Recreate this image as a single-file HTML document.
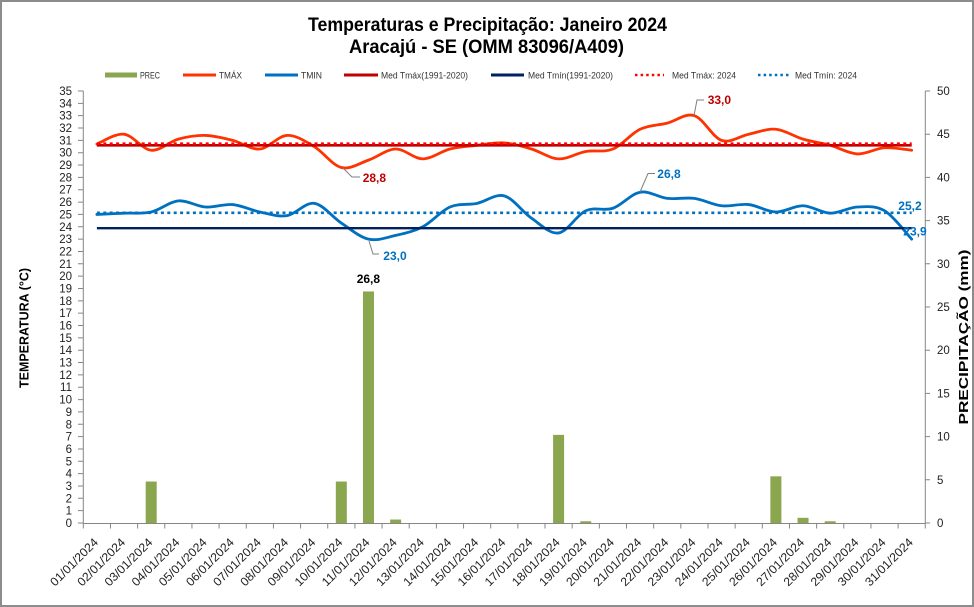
<!DOCTYPE html>
<html><head><meta charset="utf-8">
<style>
html,body{margin:0;padding:0;background:#fff;}
svg{display:block;}
text{font-family:"Liberation Sans",Arial,sans-serif;}
</style></head>
<body>
<svg id="c" width="974" height="607" viewBox="0 0 974 607" xmlns="http://www.w3.org/2000/svg">
<rect x="0" y="0" width="974" height="607" fill="#fff"/>
<rect x="1" y="1" width="972" height="605" fill="none" stroke="#8c8c8c" stroke-width="2"/>

<!-- Title -->
<text x="487.5" y="31" text-anchor="middle" font-size="19" font-weight="bold" fill="#000" textLength="359" lengthAdjust="spacingAndGlyphs">Temperaturas e Precipitação: Janeiro 2024</text>
<text x="486.5" y="53" text-anchor="middle" font-size="19" font-weight="bold" fill="#000" textLength="275" lengthAdjust="spacingAndGlyphs">Aracajú - SE (OMM 83096/A409)</text>

<!-- Legend -->
<g font-size="9" fill="#333">
<rect x="105" y="72.5" width="32" height="5" fill="#8aa64f"/>
<text x="140" y="78.5" textLength="20" lengthAdjust="spacingAndGlyphs">PREC</text>
<line x1="183" y1="75" x2="216" y2="75" stroke="#ff3300" stroke-width="3"/>
<text x="219" y="78.5" textLength="23" lengthAdjust="spacingAndGlyphs">TMÁX</text>
<line x1="265" y1="75" x2="298" y2="75" stroke="#0070c0" stroke-width="3"/>
<text x="301" y="78.5" textLength="21" lengthAdjust="spacingAndGlyphs">TMIN</text>
<line x1="344" y1="75" x2="378" y2="75" stroke="#c00000" stroke-width="3"/>
<text x="381" y="78.5" textLength="87" lengthAdjust="spacingAndGlyphs">Med Tmáx(1991-2020)</text>
<line x1="491" y1="75" x2="524" y2="75" stroke="#002060" stroke-width="3"/>
<text x="528" y="78.5" textLength="85" lengthAdjust="spacingAndGlyphs">Med Tmín(1991-2020)</text>
<line x1="635" y1="75" x2="664" y2="75" stroke="#ff0000" stroke-width="2.5" stroke-dasharray="2.5 3.1"/>
<text x="672" y="78.5" textLength="64" lengthAdjust="spacingAndGlyphs">Med Tmáx: 2024</text>
<line x1="758" y1="75" x2="790" y2="75" stroke="#0070c0" stroke-width="2.5" stroke-dasharray="2.5 3.1"/>
<text x="795" y="78.5" textLength="62" lengthAdjust="spacingAndGlyphs">Med Tmín: 2024</text>
</g>

<!-- Axes -->
<g stroke="#868686" stroke-width="1" fill="none">
<line x1="83.3" y1="91" x2="83.3" y2="523.5"/>
<line x1="925.3" y1="91" x2="925.3" y2="523.5"/>
<line x1="83.3" y1="523.5" x2="925.3" y2="523.5"/>
<path id="ticks" d=""/>
</g>

<!-- Left tick labels -->
<g font-size="11.5" fill="#222" text-anchor="end">
<text x="72" y="527">0</text><text x="72" y="514.7">1</text><text x="72" y="502.3">2</text><text x="72" y="490">3</text><text x="72" y="477.6">4</text><text x="72" y="465.3">5</text><text x="72" y="452.9">6</text><text x="72" y="440.6">7</text><text x="72" y="428.3">8</text><text x="72" y="415.9">9</text><text x="72" y="403.6">10</text><text x="72" y="391.2">11</text><text x="72" y="378.9">12</text><text x="72" y="366.5">13</text><text x="72" y="354.2">14</text><text x="72" y="341.9">15</text><text x="72" y="329.5">16</text><text x="72" y="317.2">17</text><text x="72" y="304.8">18</text><text x="72" y="292.5">19</text><text x="72" y="280.1">20</text><text x="72" y="267.8">21</text><text x="72" y="255.5">22</text><text x="72" y="243.1">23</text><text x="72" y="230.8">24</text><text x="72" y="218.4">25</text><text x="72" y="206.1">26</text><text x="72" y="193.7">27</text><text x="72" y="181.4">28</text><text x="72" y="169.1">29</text><text x="72" y="156.7">30</text><text x="72" y="144.4">31</text><text x="72" y="132">32</text><text x="72" y="119.7">33</text><text x="72" y="107.3">34</text><text x="72" y="95">35</text>
</g>
<!-- Right tick labels -->
<g font-size="11.5" fill="#222">
<text x="937" y="527">0</text><text x="937" y="483.8">5</text><text x="937" y="440.6">10</text><text x="937" y="397.4">15</text><text x="937" y="354.2">20</text><text x="937" y="311">25</text><text x="937" y="267.8">30</text><text x="937" y="224.6">35</text><text x="937" y="181.4">40</text><text x="937" y="138.2">45</text><text x="937" y="95">50</text>
</g>

<!-- Axis titles -->
<text transform="translate(28.3,328) rotate(-90)" text-anchor="middle" font-size="12.5" font-weight="bold" fill="#000" textLength="120" lengthAdjust="spacingAndGlyphs">TEMPERATURA  (°C)</text>
<text transform="translate(968,337) rotate(-90)" text-anchor="middle" font-size="12.5" font-weight="bold" fill="#000" textLength="175" lengthAdjust="spacingAndGlyphs">PRECIPITAÇÃO  (mm)</text>

<!-- X labels -->
<g font-size="12" fill="#222" text-anchor="end">
<text transform="translate(98.9,543) rotate(-45)" textLength="62" lengthAdjust="spacingAndGlyphs">01/01/2024</text>
<text transform="translate(126.0,543) rotate(-45)" textLength="62" lengthAdjust="spacingAndGlyphs">02/01/2024</text>
<text transform="translate(153.2,543) rotate(-45)" textLength="62" lengthAdjust="spacingAndGlyphs">03/01/2024</text>
<text transform="translate(180.4,543) rotate(-45)" textLength="62" lengthAdjust="spacingAndGlyphs">04/01/2024</text>
<text transform="translate(207.5,543) rotate(-45)" textLength="62" lengthAdjust="spacingAndGlyphs">05/01/2024</text>
<text transform="translate(234.7,543) rotate(-45)" textLength="62" lengthAdjust="spacingAndGlyphs">06/01/2024</text>
<text transform="translate(261.8,543) rotate(-45)" textLength="62" lengthAdjust="spacingAndGlyphs">07/01/2024</text>
<text transform="translate(289.0,543) rotate(-45)" textLength="62" lengthAdjust="spacingAndGlyphs">08/01/2024</text>
<text transform="translate(316.2,543) rotate(-45)" textLength="62" lengthAdjust="spacingAndGlyphs">09/01/2024</text>
<text transform="translate(343.3,543) rotate(-45)" textLength="62" lengthAdjust="spacingAndGlyphs">10/01/2024</text>
<text transform="translate(370.5,543) rotate(-45)" textLength="62" lengthAdjust="spacingAndGlyphs">11/01/2024</text>
<text transform="translate(397.6,543) rotate(-45)" textLength="62" lengthAdjust="spacingAndGlyphs">12/01/2024</text>
<text transform="translate(424.8,543) rotate(-45)" textLength="62" lengthAdjust="spacingAndGlyphs">13/01/2024</text>
<text transform="translate(452.0,543) rotate(-45)" textLength="62" lengthAdjust="spacingAndGlyphs">14/01/2024</text>
<text transform="translate(479.1,543) rotate(-45)" textLength="62" lengthAdjust="spacingAndGlyphs">15/01/2024</text>
<text transform="translate(506.3,543) rotate(-45)" textLength="62" lengthAdjust="spacingAndGlyphs">16/01/2024</text>
<text transform="translate(533.4,543) rotate(-45)" textLength="62" lengthAdjust="spacingAndGlyphs">17/01/2024</text>
<text transform="translate(560.6,543) rotate(-45)" textLength="62" lengthAdjust="spacingAndGlyphs">18/01/2024</text>
<text transform="translate(587.8,543) rotate(-45)" textLength="62" lengthAdjust="spacingAndGlyphs">19/01/2024</text>
<text transform="translate(614.9,543) rotate(-45)" textLength="62" lengthAdjust="spacingAndGlyphs">20/01/2024</text>
<text transform="translate(642.1,543) rotate(-45)" textLength="62" lengthAdjust="spacingAndGlyphs">21/01/2024</text>
<text transform="translate(669.2,543) rotate(-45)" textLength="62" lengthAdjust="spacingAndGlyphs">22/01/2024</text>
<text transform="translate(696.4,543) rotate(-45)" textLength="62" lengthAdjust="spacingAndGlyphs">23/01/2024</text>
<text transform="translate(723.6,543) rotate(-45)" textLength="62" lengthAdjust="spacingAndGlyphs">24/01/2024</text>
<text transform="translate(750.7,543) rotate(-45)" textLength="62" lengthAdjust="spacingAndGlyphs">25/01/2024</text>
<text transform="translate(777.9,543) rotate(-45)" textLength="62" lengthAdjust="spacingAndGlyphs">26/01/2024</text>
<text transform="translate(805.0,543) rotate(-45)" textLength="62" lengthAdjust="spacingAndGlyphs">27/01/2024</text>
<text transform="translate(832.2,543) rotate(-45)" textLength="62" lengthAdjust="spacingAndGlyphs">28/01/2024</text>
<text transform="translate(859.4,543) rotate(-45)" textLength="62" lengthAdjust="spacingAndGlyphs">29/01/2024</text>
<text transform="translate(886.5,543) rotate(-45)" textLength="62" lengthAdjust="spacingAndGlyphs">30/01/2024</text>
<text transform="translate(913.7,543) rotate(-45)" textLength="62" lengthAdjust="spacingAndGlyphs">31/01/2024</text>
</g>

<!-- Bars -->
<g id="bars" fill="#8aa64f"></g>

<!-- Series -->
<path id="tmax" d="" fill="none" stroke="#ff3300" stroke-width="2.8" stroke-linejoin="round" stroke-linecap="round"/>
<path id="tmin" d="" fill="none" stroke="#0070c0" stroke-width="2.8" stroke-linejoin="round" stroke-linecap="round"/>
<line x1="96.9" y1="145.3" x2="911.7" y2="145.3" stroke="#c00000" stroke-width="2.6"/>
<line x1="96.9" y1="228.2" x2="911.7" y2="228.2" stroke="#002060" stroke-width="2.4"/>
<line x1="96.9" y1="143.7" x2="911.7" y2="143.7" stroke="#ff0000" stroke-width="2.6" stroke-dasharray="3 3.4"/>
<line x1="96.9" y1="212.8" x2="911.7" y2="212.8" stroke="#0070c0" stroke-width="2.6" stroke-dasharray="3 3.4"/>

<!-- Leader lines -->
<g stroke="#7f7f7f" stroke-width="1" fill="none">
<polyline points="343,168 352,177 360,177"/>
<polyline points="369,241 373,254 379,254"/>
<polyline points="640,192 648,173.5 655,173.5"/>
<polyline points="694,115.5 697,100 704,100"/>
</g>

<!-- Data labels -->
<g font-size="12" font-weight="bold">
<text x="362.7" y="182" fill="#c00000">28,8</text>
<text x="383.3" y="260" fill="#0070c0">23,0</text>
<text x="657.3" y="178" fill="#0070c0">26,8</text>
<text x="707.7" y="104" fill="#c00000">33,0</text>
<text x="898.3" y="210" fill="#0070c0">25,2</text>
<text x="903.3" y="235.5" fill="#0070c0">23,9</text>
<text x="356.7" y="283" fill="#000">26,8</text>
</g>
</svg>
<script>
(function(){
  var W=27.16, X0=83.3;
  function cx(i){return X0+(i+0.5)*W;}
  function yt(t){return 523-t*12.343;}
  function yp(p){return 523-p*8.64;}
  var tmax=[30.7,31.5,30.2,31.1,31.4,31.0,30.3,31.4,30.5,28.8,29.4,30.3,29.5,30.3,30.6,30.8,30.3,29.5,30.1,30.3,31.9,32.4,33.0,31.0,31.5,31.9,31.1,30.6,29.9,30.4,30.2];
  var tmin=[25.0,25.1,25.2,26.1,25.6,25.8,25.2,24.9,25.9,24.3,23.0,23.3,24.0,25.6,25.9,26.5,24.7,23.5,25.3,25.5,26.8,26.3,26.3,25.7,25.8,25.2,25.7,25.1,25.6,25.3,23.0];
  var prec=[0,0,4.8,0,0,0,0,0,0,4.8,26.8,0.4,0,0,0,0,0,10.2,0.2,0,0,0,0,0,0,5.4,0.6,0.2,0,0,0];
  function smooth(vals){
    var p=vals.map(function(v,i){return [cx(i),yt(v)];});
    var d="M"+p[0][0].toFixed(2)+","+p[0][1].toFixed(2);
    for(var i=0;i<p.length-1;i++){
      var p0=p[i-1]||p[i],p1=p[i],p2=p[i+1],p3=p[i+2]||p[i+1];
      var c1x=p1[0]+(p2[0]-p0[0])/6,c1y=p1[1]+(p2[1]-p0[1])/6;
      var c2x=p2[0]-(p3[0]-p1[0])/6,c2y=p2[1]-(p3[1]-p1[1])/6;
      d+=" C"+c1x.toFixed(2)+","+c1y.toFixed(2)+" "+c2x.toFixed(2)+","+c2y.toFixed(2)+" "+p2[0].toFixed(2)+","+p2[1].toFixed(2);
    }
    return d;
  }
  document.getElementById("tmax").setAttribute("d",smooth(tmax));
  document.getElementById("tmin").setAttribute("d",smooth(tmin));
  var ns="http://www.w3.org/2000/svg", g=document.getElementById("bars");
  prec.forEach(function(v,i){
    if(v<=0)return;
    var r=document.createElementNS(ns,"rect");
    var h=v*8.64;
    r.setAttribute("x",(cx(i)-5.5).toFixed(2));
    r.setAttribute("y",(523-h).toFixed(2));
    r.setAttribute("width","11");
    r.setAttribute("height",h.toFixed(2));
    g.appendChild(r);
  });
  var t="";
  for(var k=0;k<=35;k++){var y=yt(k).toFixed(2);t+="M78,"+y+"H83.3";}
  for(var m=0;m<=50;m+=5){var y2=yp(m).toFixed(2);t+="M925.3,"+y2+"H930";}
  for(var j=0;j<=31;j++){var x=(X0+j*W).toFixed(2);t+="M"+x+",523.5V528.5";}
  document.getElementById("ticks").setAttribute("d",t);
})();
</script>
</body></html>
